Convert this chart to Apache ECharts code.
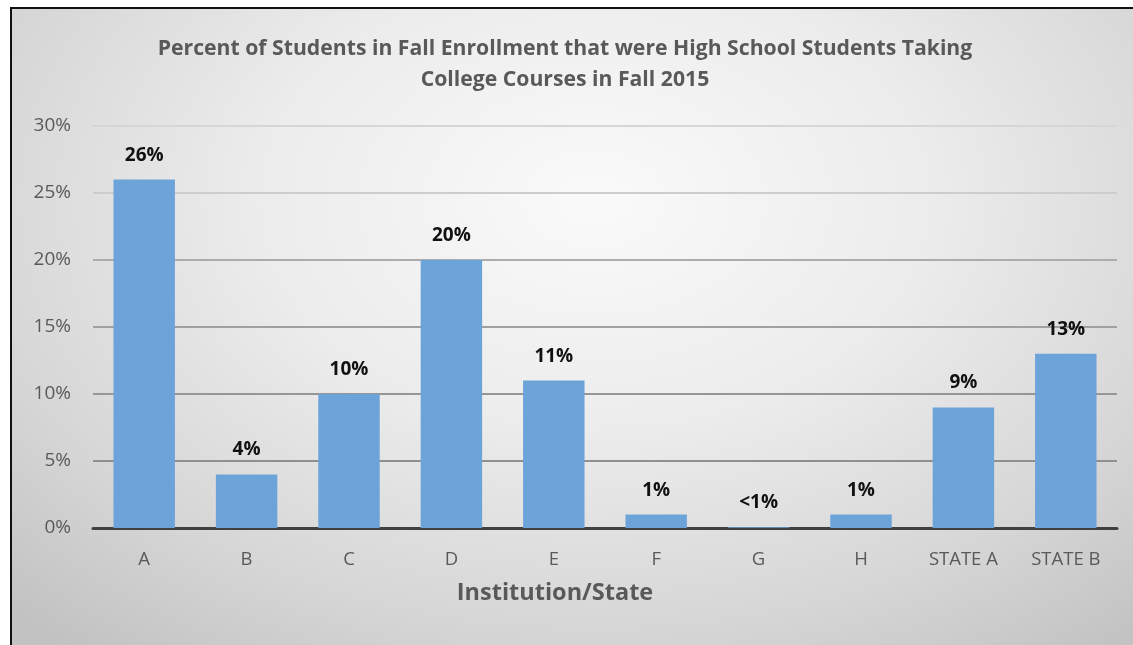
<!DOCTYPE html>
<html><head><meta charset="utf-8">
<script src="https://cdn.jsdelivr.net/npm/echarts@6/dist/echarts.min.js"></script>
<style>
html,body{margin:0;padding:0;background:#fff;width:1133px;height:645px;overflow:hidden}
#frame{position:absolute;left:10px;top:7px;width:1123px;height:638px;border-left:2px solid #111;border-top:2px solid #111;box-sizing:border-box;
background:radial-gradient(ellipse 75% 90% at 52% 30%, #fafafa 0%, #ececec 40%, #d6d6d6 75%, #c2c2c2 100%);}
#chart{position:absolute;left:0;top:0;width:1133px;height:645px}
</style></head>
<body>
<div id="frame"></div>
<div id="chart"></div>
<script>
const categories = ['A','B','C','D','E','F','G','H','STATE A','STATE B'];
const values = [26, 4, 10, 20, 11, 1, 0.05, 1, 9, 13];
const valueLabels = ['26%','4%','10%','20%','11%','1%','<1%','1%','9%','13%'];
const yTicks = [0, 5, 10, 15, 20, 25, 30];
const titleText = 'Percent of Students in Fall Enrollment that were High School Students Taking\nCollege Courses in Fall 2015';
const xAxisName = 'Institution/State';

const FONT = '"Open Sans", sans-serif';
const chart = echarts.init(document.getElementById('chart'), null, {renderer:'canvas'});
chart.setOption({
  backgroundColor: 'transparent',
  animation: false,
  title: {
    text: titleText,
    left: 560, top: 28, textAlign: 'center',
    textStyle: {fontFamily: FONT, fontSize: 21.2, fontWeight: 'bold', color: '#595959', lineHeight: 31.5}
  },
  grid: {left: 93, right: 16, top: 126, bottom: 117, containLabel: false},
  xAxis: {
    type: 'category',
    data: categories,
    axisLine: {show: true, lineStyle: {color: '#404040', width: 3}},
    axisTick: {show: false},
    axisLabel: {fontFamily: FONT, fontSize: 18.5, color: '#595959', margin: 22},
    name: xAxisName,
    nameLocation: 'middle',
    nameGap: 53,
    nameTextStyle: {fontFamily: FONT, fontSize: 23.5, fontWeight: 'bold', color: '#595959', padding: [0, 100, 0, 0]}
  },
  yAxis: {
    type: 'value',
    min: yTicks[0], max: yTicks[yTicks.length-1], interval: 5,
    axisLine: {show: false},
    axisTick: {show: false},
    axisLabel: {fontFamily: FONT, fontSize: 19, color: '#595959', margin: 22, formatter: v => v + '%'},
    splitLine: {lineStyle: {color: ['#8f8f8f','#8f8f8f','#969696','#a0a0a0','#acacac','#cdcdcd','#d6d6d6'], width: 2}}
  },
  series: [{
    type: 'bar',
    data: values,
    barWidth: '60%',
    itemStyle: {color: '#6CA3D9'},
    label: {
      show: true, position: 'top', distance: 15,
      fontFamily: FONT, fontSize: 19, fontWeight: 'bold', color: '#111',
      formatter: p => valueLabels[p.dataIndex]
    }
  }]
});
</script>
</body></html>
